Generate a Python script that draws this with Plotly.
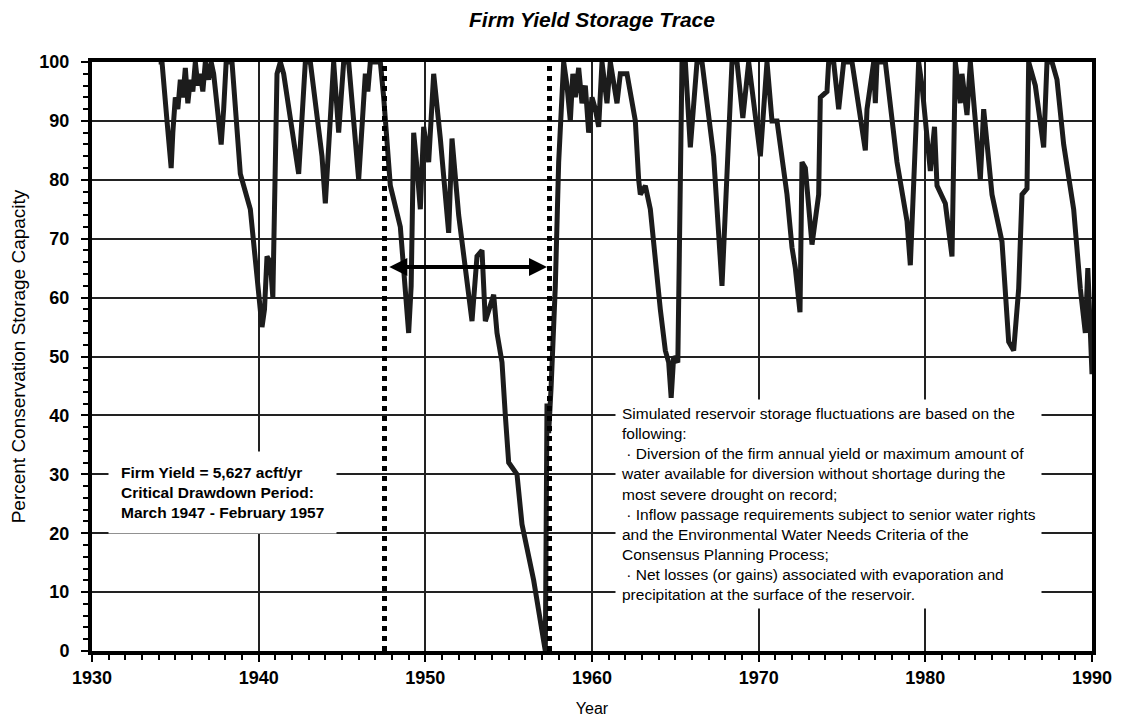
import plotly.graph_objects as go

# ---- data ----
years = [
    1934.0, 1934.2, 1934.5, 1934.75, 1934.85, 1935.0, 1935.15, 1935.3, 1935.45, 1935.6,
    1935.75, 1935.9, 1936.05, 1936.2, 1936.35, 1936.5, 1936.65, 1936.8, 1937.0, 1937.15,
    1937.3, 1937.5, 1937.75, 1937.9, 1938.05, 1938.4, 1938.9, 1939.5, 1939.9, 1940.2,
    1940.35, 1940.5, 1940.7, 1940.85, 1941.1, 1941.3, 1941.5, 1941.9, 1942.4, 1942.8,
    1943.1, 1943.8, 1944.0, 1944.5, 1944.8, 1945.1, 1945.4, 1946.0, 1946.4, 1946.55,
    1946.7, 1947.0, 1947.3, 1947.5, 1947.9, 1948.5, 1948.7, 1949.0, 1949.15, 1949.3,
    1949.5, 1949.7, 1949.9, 1950.05, 1950.2, 1950.5, 1950.9, 1951.4, 1951.6, 1952.0,
    1952.5, 1952.8, 1953.1, 1953.4, 1953.6, 1954.1, 1954.3, 1954.6, 1954.8, 1955.0,
    1955.5, 1955.8, 1956.5, 1956.9, 1957.2, 1957.3, 1957.4, 1957.55, 1957.8, 1958.0,
    1958.3, 1958.5, 1958.7, 1958.85, 1959.0, 1959.2, 1959.4, 1959.6, 1959.8, 1960.0,
    1960.2, 1960.4, 1960.6, 1960.9, 1961.1, 1961.5, 1961.7, 1962.1, 1962.6, 1962.8,
    1962.9, 1963.2, 1963.5, 1964.1, 1964.4, 1964.6, 1964.75, 1964.9, 1965.15, 1965.4,
    1965.6, 1965.9, 1966.3, 1966.6, 1967.3, 1967.8, 1968.2, 1968.4, 1968.7, 1969.05,
    1969.4, 1969.98, 1970.1, 1970.5, 1970.8, 1971.1, 1971.7, 1972.0, 1972.2, 1972.48,
    1972.6, 1972.8, 1973.2, 1973.6, 1973.7, 1974.1, 1974.2, 1974.5, 1974.8, 1975.1,
    1975.6, 1976.4, 1976.5, 1976.9, 1977.0, 1977.1, 1977.6, 1978.3, 1978.9, 1979.1,
    1979.4, 1979.6, 1979.8, 1980.1, 1980.3, 1980.55, 1980.7, 1981.2, 1981.6, 1981.8,
    1982.1, 1982.2, 1982.5, 1982.7, 1983.3, 1983.5, 1984.0, 1984.6, 1985.0, 1985.3,
    1985.6, 1985.8, 1986.1, 1986.2, 1986.6, 1987.1, 1987.2, 1987.3, 1987.6, 1987.9,
    1988.3, 1988.9, 1989.3, 1989.6, 1989.75, 1989.85, 1990.0,
]
storage_pct = [
    100, 100, 90, 82, 88, 94, 92, 97, 94, 99,
    93, 97, 95, 100, 96, 98, 95, 100, 97, 100,
    98, 92, 86, 92, 100, 100, 81, 75, 63, 55,
    58, 67, 66, 60, 98, 100, 98, 90, 81, 100,
    100, 84, 76, 100, 88, 100, 100, 80, 98, 95,
    100, 100, 100, 94, 79, 72, 64, 54, 62, 88,
    82, 75, 89, 85, 83, 98, 87, 71, 87, 74,
    63, 56, 67, 68, 56, 60.5, 54, 49, 40, 32,
    30, 21.5, 12, 4.5, 0, 42, 37, 45, 62, 83,
    100, 96, 90, 98, 94, 99, 93, 96, 88, 94,
    92, 89, 100, 93, 100, 93, 98, 98, 90, 80,
    77.5, 79, 75, 58, 51, 49, 43, 50, 49, 100,
    100, 85.5, 100, 100, 84, 62, 90, 100, 100, 90.5,
    100, 85.5, 84, 100, 90, 90, 77.5, 68.5, 65, 57.5,
    83, 82, 69, 77.5, 94, 95, 100, 100, 92, 100,
    100, 85, 92, 100, 93, 100, 100, 83, 73, 65.5,
    84, 100, 96, 86.5, 81.5, 89, 79, 76, 67, 100,
    93, 98, 91, 100, 80, 92, 77.5, 69.5, 52.5, 51,
    61.5, 77.5, 78.5, 100, 96, 85.5, 93, 100, 100, 97,
    86, 75, 61.5, 54, 65, 56, 47,
]

critical_period_bounds = [1947.55, 1957.45]   # dotted vertical lines
arrow_span = [1947.75, 1957.3]                 # double-headed arrow ends
arrow_level = 65.2

x_ticks = [1930, 1940, 1950, 1960, 1970, 1980, 1990]
y_ticks = [0, 10, 20, 30, 40, 50, 60, 70, 80, 90, 100]

title_text = "Firm Yield Storage Trace"
x_title = "Year"
y_title = "Percent Conservation Storage Capacity"

left_note = ("Firm Yield = 5,627 acft/yr<br>"
             "Critical Drawdown Period:<br>"
             "March 1947 - February 1957")
right_note = ("Simulated reservoir storage fluctuations are based on the<br>"
              "following:<br>"
              "&nbsp;· Diversion of the firm annual yield or maximum amount of<br>"
              "water available for diversion without shortage during the<br>"
              "most severe drought on record;<br>"
              "&nbsp;· Inflow passage requirements subject to senior water rights<br>"
              "and the Environmental Water Needs Criteria of the<br>"
              "Consensus Planning Process;<br>"
              "&nbsp;· Net losses (or gains) associated with evaporation and<br>"
              "precipitation at the surface of the reservoir.")

FONT = "Liberation Sans, Arial, sans-serif"

fig = go.Figure()
fig.add_trace(go.Scatter(
    x=years, y=storage_pct, mode="lines",
    line=dict(color="#1c1c1c", width=5),
    showlegend=False, hoverinfo="x+y",
))

for xb in critical_period_bounds:
    fig.add_shape(type="line", xref="x", yref="y", x0=xb, x1=xb, y0=0, y1=100,
                  line=dict(color="black", width=5, dash="5px,5px"), layer="above")

fig.add_annotation(x=arrow_span[1], y=arrow_level, ax=arrow_span[0], ay=arrow_level,
                   xref="x", yref="y", axref="x", ayref="y", text="",
                   showarrow=True, arrowhead=2, arrowside="end+start",
                   arrowwidth=4, arrowsize=0.9, arrowcolor="black")

fig.add_annotation(x=0.016, xref="paper", xanchor="left",
                   y=26.9, yref="y", yanchor="middle",
                   text="<b>" + left_note + "</b>", showarrow=False, align="left",
                   font=dict(family=FONT, size=15.5, color="black"),
                   bgcolor="white", borderpad=12)

fig.add_annotation(x=0.523, xref="paper", xanchor="left",
                   y=25.0, yref="y", yanchor="middle",
                   text=right_note, showarrow=False, align="left",
                   font=dict(family=FONT, size=15.5, color="black"),
                   bgcolor="white", borderpad=5)

axis_common = dict(
    showline=True, linecolor="black", linewidth=4, mirror=True,
    showgrid=True, gridcolor="#222222", gridwidth=2,
    ticks="outside", tickcolor="black", tickwidth=2, ticklen=7,
    tickfont=dict(family=FONT, size=18, color="black", weight="bold"),
    zeroline=False, automargin=False,
)

fig.update_xaxes(range=[1930, 1990], tickmode="array", tickvals=x_ticks,
                 minor=dict(dtick=1, tick0=1930, ticks="outside", ticklen=5,
                            tickwidth=2, tickcolor="black", showgrid=False),
                 title=dict(text=x_title, font=dict(family=FONT, size=16, color="black"),
                            standoff=17),
                 **axis_common)
fig.update_yaxes(range=[0, 100], tickmode="array", tickvals=y_ticks,
                 minor=dict(dtick=2, tick0=0, ticks="outside", ticklen=5,
                            tickwidth=2, tickcolor="black", showgrid=False),
                 ticklabelstandoff=8,
                 title=dict(text=y_title, font=dict(family=FONT, size=19, color="black"),
                            standoff=10),
                 **axis_common)

# The page body adds an 8px offset; size the figure so the plot lands where it should.
fig.update_layout(
    width=1121, height=715,
    margin=dict(l=84, r=37, t=54, b=72),
    paper_bgcolor="white", plot_bgcolor="white",
    title=dict(text="<b><i>" + title_text + "</i></b>", x=0.5, xref="paper",
               y=0.9935, yref="container", yanchor="top",
               font=dict(family=FONT, size=21, color="black")),
    font=dict(family=FONT, color="black"),
    showlegend=False,
)

fig.write_html("out.html")
